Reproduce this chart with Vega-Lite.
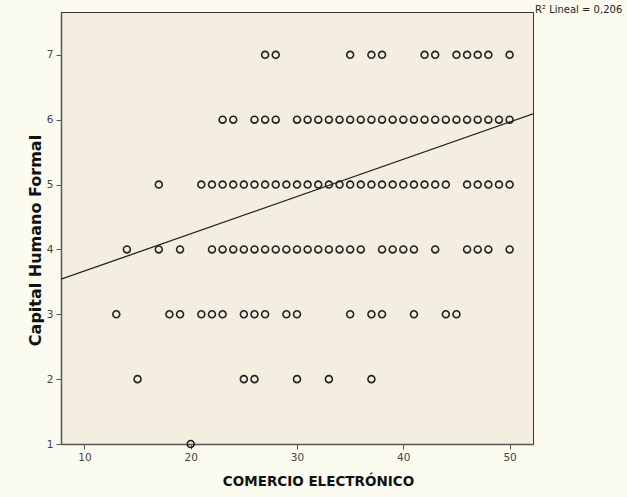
{
  "$schema": "https://vega.github.io/schema/vega-lite/v6.json",
  "autosize": "none",
  "width": 472,
  "height": 432,
  "padding": {"left": 61, "top": 12, "right": 94, "bottom": 53},
  "background": "#fcfbf0",
  "config": {
    "view": {"fill": "#f4eee1", "stroke": "#333333", "strokeWidth": 1},
    "font": "DejaVu Sans",
    "axis": {
      "grid": false,
      "domainColor": "#555555",
      "domainWidth": 1.5,
      "tickColor": "#555555",
      "tickSize": 5,
      "labelColor": "#444444",
      "labelFontSize": 10.5,
      "titleFontSize": 14,
      "titleFontWeight": "bold",
      "titleColor": "#111111",
      "titleFont": "DejaVu Sans"
    }
  },
  "datasets": {
    "pts": [
      {"ce": 27, "chf": 7}, {"ce": 28, "chf": 7}, {"ce": 35, "chf": 7}, {"ce": 37, "chf": 7}, {"ce": 38, "chf": 7}, {"ce": 42, "chf": 7}, {"ce": 43, "chf": 7}, {"ce": 45, "chf": 7}, {"ce": 46, "chf": 7}, {"ce": 47, "chf": 7}, {"ce": 48, "chf": 7}, {"ce": 50, "chf": 7},
      {"ce": 23, "chf": 6}, {"ce": 24, "chf": 6}, {"ce": 26, "chf": 6}, {"ce": 27, "chf": 6}, {"ce": 28, "chf": 6}, {"ce": 30, "chf": 6}, {"ce": 31, "chf": 6}, {"ce": 32, "chf": 6}, {"ce": 33, "chf": 6}, {"ce": 34, "chf": 6}, {"ce": 35, "chf": 6}, {"ce": 36, "chf": 6}, {"ce": 37, "chf": 6}, {"ce": 38, "chf": 6}, {"ce": 39, "chf": 6}, {"ce": 40, "chf": 6}, {"ce": 41, "chf": 6}, {"ce": 42, "chf": 6}, {"ce": 43, "chf": 6}, {"ce": 44, "chf": 6}, {"ce": 45, "chf": 6}, {"ce": 46, "chf": 6}, {"ce": 47, "chf": 6}, {"ce": 48, "chf": 6}, {"ce": 49, "chf": 6}, {"ce": 50, "chf": 6},
      {"ce": 17, "chf": 5}, {"ce": 21, "chf": 5}, {"ce": 22, "chf": 5}, {"ce": 23, "chf": 5}, {"ce": 24, "chf": 5}, {"ce": 25, "chf": 5}, {"ce": 26, "chf": 5}, {"ce": 27, "chf": 5}, {"ce": 28, "chf": 5}, {"ce": 29, "chf": 5}, {"ce": 30, "chf": 5}, {"ce": 31, "chf": 5}, {"ce": 32, "chf": 5}, {"ce": 33, "chf": 5}, {"ce": 34, "chf": 5}, {"ce": 35, "chf": 5}, {"ce": 36, "chf": 5}, {"ce": 37, "chf": 5}, {"ce": 38, "chf": 5}, {"ce": 39, "chf": 5}, {"ce": 40, "chf": 5}, {"ce": 41, "chf": 5}, {"ce": 42, "chf": 5}, {"ce": 43, "chf": 5}, {"ce": 44, "chf": 5}, {"ce": 46, "chf": 5}, {"ce": 47, "chf": 5}, {"ce": 48, "chf": 5}, {"ce": 49, "chf": 5}, {"ce": 50, "chf": 5},
      {"ce": 14, "chf": 4}, {"ce": 17, "chf": 4}, {"ce": 19, "chf": 4}, {"ce": 22, "chf": 4}, {"ce": 23, "chf": 4}, {"ce": 24, "chf": 4}, {"ce": 25, "chf": 4}, {"ce": 26, "chf": 4}, {"ce": 27, "chf": 4}, {"ce": 28, "chf": 4}, {"ce": 29, "chf": 4}, {"ce": 30, "chf": 4}, {"ce": 31, "chf": 4}, {"ce": 32, "chf": 4}, {"ce": 33, "chf": 4}, {"ce": 34, "chf": 4}, {"ce": 35, "chf": 4}, {"ce": 36, "chf": 4}, {"ce": 38, "chf": 4}, {"ce": 39, "chf": 4}, {"ce": 40, "chf": 4}, {"ce": 41, "chf": 4}, {"ce": 43, "chf": 4}, {"ce": 46, "chf": 4}, {"ce": 47, "chf": 4}, {"ce": 48, "chf": 4}, {"ce": 50, "chf": 4},
      {"ce": 13, "chf": 3}, {"ce": 18, "chf": 3}, {"ce": 19, "chf": 3}, {"ce": 21, "chf": 3}, {"ce": 22, "chf": 3}, {"ce": 23, "chf": 3}, {"ce": 25, "chf": 3}, {"ce": 26, "chf": 3}, {"ce": 27, "chf": 3}, {"ce": 29, "chf": 3}, {"ce": 30, "chf": 3}, {"ce": 35, "chf": 3}, {"ce": 37, "chf": 3}, {"ce": 38, "chf": 3}, {"ce": 41, "chf": 3}, {"ce": 44, "chf": 3}, {"ce": 45, "chf": 3},
      {"ce": 15, "chf": 2}, {"ce": 25, "chf": 2}, {"ce": 26, "chf": 2}, {"ce": 30, "chf": 2}, {"ce": 33, "chf": 2}, {"ce": 37, "chf": 2},
      {"ce": 20, "chf": 1}
    ],
    "fit": [
      {"ce": 7.8, "chf": 3.54},
      {"ce": 52.2, "chf": 6.09}
    ],
    "note": [
      {"ce": 52.2, "chf": 7.66, "label": "R² Lineal = 0,206"}
    ]
  },
  "layer": [
    {
      "data": {"name": "pts"},
      "mark": {"type": "point", "shape": "circle", "filled": false, "size": 48, "stroke": "#222222", "strokeWidth": 1.6, "opacity": 1, "clip": false},
      "encoding": {
        "x": {"field": "ce", "type": "quantitative", "scale": {"domain": [7.8, 52.2], "nice": false, "zero": false},
          "axis": {"values": [10, 20, 30, 40, 50], "format": "d", "title": "COMERCIO ELECTRÓNICO", "titlePadding": 12, "titleFontSize": 13.5, "titleX": 257, "labelPadding": 3}},
        "y": {"field": "chf", "type": "quantitative", "scale": {"domain": [1, 7.66], "nice": false, "zero": false},
          "axis": {"values": [1, 2, 3, 4, 5, 6, 7], "format": "d", "title": "Capital Humano Formal", "titleFontSize": 16, "titlePadding": 3, "titleY": 228, "labelPadding": 3}}
      }
    },
    {
      "data": {"name": "fit"},
      "mark": {"type": "line", "color": "#222222", "strokeWidth": 1.3, "clip": true},
      "encoding": {
        "x": {"field": "ce", "type": "quantitative"},
        "y": {"field": "chf", "type": "quantitative"}
      }
    },
    {
      "data": {"name": "note"},
      "mark": {"type": "text", "align": "left", "baseline": "middle", "dx": 2, "dy": -2, "fontSize": 10, "color": "#222222", "font": "DejaVu Sans"},
      "encoding": {
        "x": {"field": "ce", "type": "quantitative"},
        "y": {"field": "chf", "type": "quantitative"},
        "text": {"field": "label"}
      }
    }
  ]
}
